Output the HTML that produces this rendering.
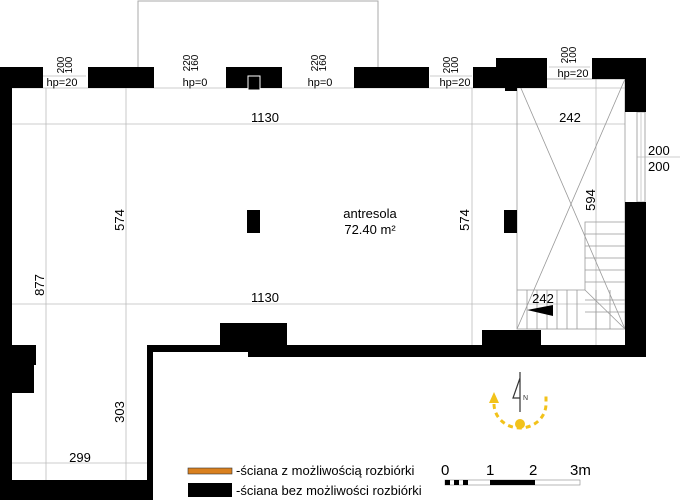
<!DOCTYPE html>
<html><head><meta charset="utf-8"><style>
html,body{margin:0;padding:0;background:#fff}
svg{display:block;font-family:"Liberation Sans",sans-serif}
</style></head><body>
<svg width="692" height="500" viewBox="0 0 692 500" xmlns="http://www.w3.org/2000/svg">
<g stroke="#aaa" stroke-width="1" fill="none">
<path d="M138 67 V1 H378 V67"/>
</g>
<g stroke="#bbb" stroke-width="0.8" fill="none">
<line x1="12" y1="124" x2="625" y2="124"/>
<line x1="12" y1="304" x2="625" y2="304"/>
<line x1="46" y1="88" x2="46" y2="480"/>
<line x1="126" y1="88" x2="126" y2="480"/>
<line x1="472" y1="88" x2="472" y2="345"/>
<line x1="596" y1="79" x2="596" y2="345"/>
<line x1="12" y1="463" x2="147" y2="463"/>
<line x1="12" y1="88" x2="625" y2="88"/>
<line x1="43" y1="76" x2="86" y2="76"/>
<line x1="430" y1="76" x2="472" y2="76"/>
<line x1="549" y1="67" x2="590" y2="67"/>
<line x1="637" y1="157" x2="680" y2="157"/>
</g>
<g stroke="#999" stroke-width="0.8" fill="none">
<rect x="517" y="79" width="108" height="250"/>
<line x1="517" y1="79" x2="625" y2="329"/>
<line x1="625" y1="79" x2="517" y2="329"/>
<path d="M585 290 V222 H625"/>
<path d="M517 290 H585"/>
<line x1="585" y1="290" x2="625" y2="329"/>
<line x1="585" y1="234" x2="625" y2="234"/>
<line x1="585" y1="246" x2="625" y2="246"/>
<line x1="585" y1="258" x2="625" y2="258"/>
<line x1="585" y1="270" x2="625" y2="270"/>
<line x1="585" y1="282" x2="625" y2="282"/>
<line x1="585" y1="300" x2="625" y2="300"/>
<line x1="585" y1="312" x2="625" y2="312"/>
<line x1="527" y1="290" x2="527" y2="329"/>
<line x1="537" y1="290" x2="537" y2="329"/>
<line x1="547" y1="290" x2="547" y2="329"/>
<line x1="557" y1="290" x2="557" y2="329"/>
<line x1="567" y1="290" x2="567" y2="329"/>
<line x1="577" y1="290" x2="577" y2="329"/>
<line x1="596" y1="290" x2="596" y2="329"/>
<line x1="610" y1="290" x2="610" y2="329"/>
</g>
<rect x="637" y="112" width="8" height="90" fill="none" stroke="#aaa"/>
<line x1="641" y1="112" x2="641" y2="202" stroke="#ccc"/>
<g fill="#000">
<rect x="0" y="67" width="43" height="21"/>
<rect x="0" y="67" width="12" height="433"/>
<rect x="88" y="67" width="66" height="21"/>
<rect x="226" y="67" width="56" height="21"/>
<rect x="354" y="67" width="75" height="21"/>
<rect x="473" y="67" width="30" height="21"/>
<rect x="496" y="58" width="51" height="30"/>
<rect x="505" y="80" width="12" height="11"/>
<rect x="592" y="58" width="54" height="21"/>
<rect x="625" y="58" width="21" height="54"/>
<rect x="625" y="202" width="21" height="155"/>
<rect x="248" y="345" width="398" height="12"/>
<rect x="220" y="323" width="67" height="29"/>
<rect x="482" y="330" width="59" height="16"/>
<rect x="147" y="345" width="101" height="7"/>
<rect x="147" y="345" width="6" height="155"/>
<rect x="0" y="480" width="153" height="20"/>
<rect x="0" y="345" width="36" height="20"/>
<rect x="0" y="365" width="34" height="28"/>
<rect x="247" y="210" width="13" height="23"/>
<rect x="504" y="210" width="13" height="23"/>
<polygon points="527,310 553,305 553,316"/>
<rect x="188" y="483" width="44" height="14"/>
</g>
<rect x="248" y="76" width="12" height="14" fill="#000" stroke="#fff" stroke-width="1"/>
<rect x="188" y="468" width="44" height="6" fill="#d9801f" stroke="#333" stroke-width="0.6"/>
<g font-size="13" fill="#000">
<text x="236" y="475">-ściana z możliwością rozbiórki</text>
<text x="236" y="495">-ściana bez możliwości rozbiórki</text>
</g>
<rect x="445" y="480" width="135" height="5" fill="#fff" stroke="#888" stroke-width="0.6"/>
<rect x="445" y="480" width="5" height="5" fill="#000"/>
<rect x="454" y="480" width="5" height="5" fill="#000"/>
<rect x="463" y="480" width="5" height="5" fill="#000"/>
<rect x="490" y="480" width="45" height="5" fill="#000"/>
<g font-size="15" fill="#000">
<text x="441" y="475">0</text><text x="486" y="475">1</text><text x="529" y="475">2</text><text x="570" y="475">3m</text>
</g>
<path d="M494 404 A26 24 0 0 0 546 404 L546 396" stroke="#f2c21a" stroke-width="3" fill="none" stroke-dasharray="5 4"/>
<circle cx="520" cy="424" r="5" fill="#f2c21a"/>
<polygon points="494,392 489,403 499,403" fill="#f2c21a"/>
<path d="M520 372 V412 M520 378 L513 398 H520" stroke="#333" stroke-width="1.2" fill="none"/>
<text x="523" y="400" font-size="7" fill="#333">N</text>
<g font-size="13" fill="#000" text-anchor="middle">
<text x="265" y="122">1130</text>
<text x="570" y="122">242</text>
<text x="265" y="302">1130</text>
<text x="543" y="303">242</text>
<text x="370" y="218">antresola</text>
<text x="370" y="234">72.40 m²</text>
<text x="80" y="462">299</text>
</g>
<g font-size="13" fill="#000">
<text x="648" y="155">200</text>
<text x="648" y="171">200</text>
</g>
<g font-size="11" fill="#000" text-anchor="middle">
<text x="62" y="86">hp=20</text>
<text x="195" y="86">hp=0</text>
<text x="320" y="86">hp=0</text>
<text x="455" y="86">hp=20</text>
<text x="573" y="77">hp=20</text>
</g>
<g font-size="13" fill="#000" text-anchor="middle">
<text transform="translate(124,220) rotate(-90)">574</text>
<text transform="translate(469,220) rotate(-90)">574</text>
<text transform="translate(44,285) rotate(-90)">877</text>
<text transform="translate(124,412) rotate(-90)">303</text>
<text transform="translate(595,200) rotate(-90)">594</text>
</g>
<g font-size="10" fill="#000" text-anchor="middle">
<text transform="translate(64,65) rotate(-90)">200</text><text transform="translate(72,65) rotate(-90)">100</text>
<text transform="translate(190,63) rotate(-90)">220</text><text transform="translate(198,63) rotate(-90)">160</text>
<text transform="translate(318,63) rotate(-90)">220</text><text transform="translate(326,63) rotate(-90)">160</text>
<text transform="translate(450,65) rotate(-90)">200</text><text transform="translate(458,65) rotate(-90)">100</text>
<text transform="translate(568,55) rotate(-90)">200</text><text transform="translate(576,55) rotate(-90)">100</text>
</g>
</svg>
</body></html>
